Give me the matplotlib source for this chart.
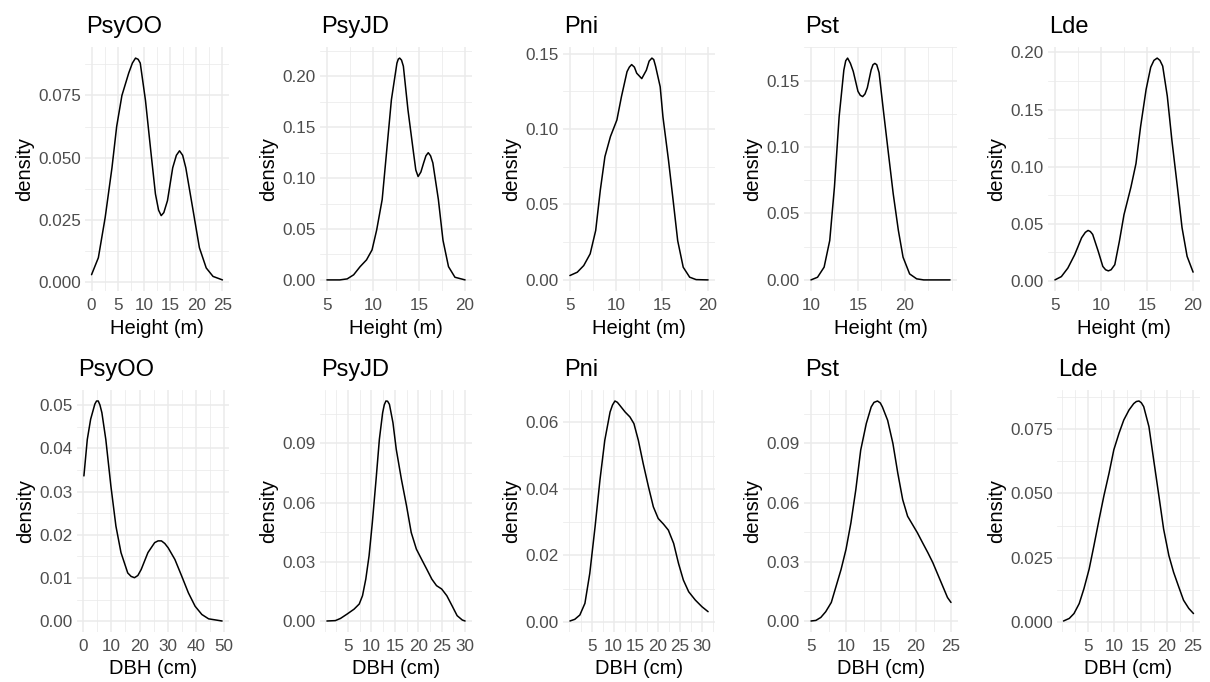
import matplotlib.pyplot as plt

plt.rcParams["font.family"] = ["Liberation Sans", "DejaVu Sans"]

FIG_W, FIG_H = 1210, 682

species = ["PsyOO", "PsyJD", "Pni", "Pst", "Lde"]

# Height (m) density curves
psyoo_h_x = [0, 1.3, 2.6, 3.9, 4.8, 5.8, 7.1, 7.8, 8.4, 8.9, 9.3, 10.3, 11.3, 12.2,
             12.8, 13.3, 13.8, 14.5, 15.5, 16.2, 16.8, 17.4, 18.0, 19.3, 20.6,
             21.9, 23.2, 25.0]
psyoo_h_y = [0.0031, 0.0099, 0.026, 0.046, 0.0626, 0.075, 0.084, 0.088, 0.090,
             0.0895, 0.088, 0.073, 0.053, 0.0355, 0.029, 0.0268, 0.028, 0.0328,
             0.046, 0.051, 0.0528, 0.051, 0.046, 0.030, 0.0139, 0.0058, 0.0024,
             0.001]

psyjd_h_x = [5, 6.4, 7.2, 7.9, 8.6, 9.3, 9.9, 10.4, 11.0, 11.5, 12.0, 12.6, 12.75,
             12.9, 13.1, 13.3, 13.8, 14.4, 14.65, 14.9, 15.2, 15.5, 15.75, 16.0,
             16.25, 16.5, 17.1, 17.6, 18.2, 18.9, 20]
psyjd_h_y = [0, 0, 0.001, 0.005, 0.013, 0.0197, 0.0295, 0.049, 0.079, 0.128,
             0.177, 0.213, 0.217, 0.218, 0.216, 0.21, 0.167, 0.125, 0.108, 0.1016,
             0.106, 0.115, 0.122, 0.125, 0.122, 0.115, 0.079, 0.039, 0.013,
             0.0026, 0]

pni_h_x = [5, 5.8, 6.5, 7.2, 7.8, 8.3, 8.8, 9.4, 10.1, 10.6, 11.2, 11.45, 11.7,
           12.0, 12.25, 12.8, 13.3, 13.6, 13.9, 14.1, 14.3, 14.8, 15.1, 15.7,
           16.2, 16.7, 17.3, 18.0, 18.7, 20]
pni_h_y = [0.0029, 0.0051, 0.0095, 0.0173, 0.0328, 0.0595, 0.0817, 0.095, 0.106,
           0.1216, 0.138, 0.141, 0.1427, 0.141, 0.137, 0.1334, 0.139, 0.145,
           0.147, 0.146, 0.1416, 0.128, 0.108, 0.0794, 0.053, 0.026, 0.0084,
           0.0018, 0.0002, 0]

pst_h_x = [10, 10.7, 11.4, 12.0, 12.5, 13.0, 13.5, 13.7, 13.9, 14.2, 14.5, 15.0,
           15.25, 15.5, 15.75, 16.0, 16.4, 16.6, 16.8, 17.0, 17.25, 17.7, 18.2,
           18.75, 19.3, 19.8, 20.5, 21.25, 22, 24.8]
pst_h_y = [0, 0.002, 0.0096, 0.0297, 0.070, 0.123, 0.158, 0.165, 0.167, 0.163,
           0.157, 0.142, 0.139, 0.138, 0.140, 0.1447, 0.158, 0.162, 0.163, 0.162,
           0.156, 0.128, 0.0978, 0.065, 0.0373, 0.0171, 0.0045, 0.0008, 0, 0]

lde_h_x = [5, 5.7, 6.4, 7.15, 7.9, 8.3, 8.6, 8.85, 9.1, 9.7, 10.2, 10.5, 10.8,
           11.1, 11.5, 12.0, 12.5, 13.25, 13.8, 14.3, 14.9, 15.4, 15.75, 16.1,
           16.4, 16.7, 17.2, 17.7, 18.3, 18.8, 19.35, 20]
lde_h_y = [0.0009, 0.0038, 0.0112, 0.023, 0.0378, 0.0425, 0.0442, 0.0432, 0.0407,
           0.026, 0.0127, 0.0098, 0.0088, 0.0098, 0.0142, 0.0348, 0.058, 0.082,
           0.1027, 0.135, 0.1676, 0.187, 0.193, 0.195, 0.193, 0.188, 0.1617,
           0.123, 0.082, 0.0466, 0.0215, 0.0077]

# DBH (cm) density curves
psyoo_d_x = [0.2, 1.4, 2.6, 4.1, 4.7, 5.3, 5.9, 6.6, 8.0, 9.8, 11.6, 13.4, 15.8,
             17.0, 18.2, 19.4, 20.6, 23.0, 25.4, 26.6, 27.8, 29.0, 30.2, 32.6,
             35.0, 37.4, 39.8, 42.2, 44.6, 49.4]
psyoo_d_y = [0.0336, 0.042, 0.0467, 0.0502, 0.0509, 0.0509, 0.0500, 0.0482,
             0.042, 0.0313, 0.022, 0.0159, 0.0112, 0.0104, 0.0101, 0.0106, 0.012,
             0.0159, 0.0182, 0.0186, 0.0186, 0.0180, 0.017, 0.0143, 0.0105,
             0.0066, 0.0035, 0.0016, 0.0006, 0.0001]

psyjd_d_x = [0.5, 2.3, 3.4, 4.8, 6.3, 7.4, 8.1, 8.8, 9.5, 10.2, 11.0, 11.7, 12.4,
             12.75, 13.1, 13.45, 13.85, 14.6, 15.3, 16.4, 17.5, 18.5, 19.6, 20.7,
             21.8, 22.9, 23.9, 25.0, 26.1, 27.2, 28.3, 29.4, 30.0]
psyjd_d_y = [0, 0.0002, 0.0013, 0.0035, 0.006, 0.0086, 0.0128, 0.0212, 0.033,
             0.0499, 0.0718, 0.092, 0.1055, 0.1095, 0.1114, 0.1113, 0.1097,
             0.1004, 0.087, 0.0718, 0.0583, 0.0448, 0.0364, 0.0313, 0.0263,
             0.0212, 0.0179, 0.0162, 0.0128, 0.0078, 0.0027, 0.0005, 0]

pni_d_x = [0.1, 1.2, 2.35, 3.5, 4.6, 5.8, 6.9, 8.0, 9.2, 9.75, 10.3, 10.85, 11.4,
           12.6, 13.7, 14.6, 15.6, 16.7, 17.9, 19.0, 20.1, 21.3, 22.4, 23.6,
           24.7, 25.8, 27.0, 28.5, 30.0, 31.4]
pni_d_y = [0.0003, 0.0008, 0.0021, 0.0056, 0.0146, 0.0286, 0.0426, 0.0546,
           0.0631, 0.0652, 0.0664, 0.066, 0.0651, 0.0631, 0.0616, 0.0596, 0.0546,
           0.0476, 0.0406, 0.0346, 0.0311, 0.0294, 0.0276, 0.0236, 0.0176,
           0.0126, 0.0091, 0.0066, 0.0046, 0.0031]

pst_d_x = [5, 5.7, 6.4, 7.1, 7.9, 8.6, 9.3, 10.0, 10.7, 11.4, 12.1, 12.9, 13.6,
           14.0, 14.5, 14.9, 15.2, 15.95, 16.7, 17.4, 18.1, 18.8, 19.5, 20.2,
           20.95, 21.7, 22.4, 23.1, 23.8, 24.5, 25.0]
pst_d_y = [0, 0.0003, 0.0018, 0.0047, 0.0094, 0.0178, 0.0262, 0.0363, 0.0497,
           0.0665, 0.0866, 0.1001, 0.1085, 0.1108, 0.1115, 0.1105, 0.1085,
           0.1017, 0.09, 0.0749, 0.0615, 0.0531, 0.0489, 0.0447, 0.0396, 0.0346,
           0.0296, 0.0237, 0.0178, 0.0119, 0.0094]

lde_d_x = [0.3, 1.4, 2.3, 3.3, 4.2, 5.2, 6.1, 7.1, 8.0, 9.0, 9.9, 10.9, 11.8,
           12.8, 13.7, 14.2, 14.7, 15.15, 15.6, 16.6, 17.5, 18.5, 19.4, 20.4,
           21.3, 22.3, 23.2, 24.2, 25.1]
lde_d_y = [0.0003, 0.0013, 0.0032, 0.0071, 0.0129, 0.0206, 0.0296, 0.04, 0.049,
           0.058, 0.067, 0.0735, 0.0786, 0.0825, 0.085, 0.0858, 0.086, 0.0853,
           0.0838, 0.076, 0.0631, 0.049, 0.0361, 0.0258, 0.0193, 0.0135, 0.0084,
           0.0052, 0.0032]

height_curves = [(psyoo_h_x, psyoo_h_y), (psyjd_h_x, psyjd_h_y), (pni_h_x, pni_h_y),
                 (pst_h_x, pst_h_y), (lde_h_x, lde_h_y)]
dbh_curves = [(psyoo_d_x, psyoo_d_y), (psyjd_d_x, psyjd_d_y), (pni_d_x, pni_d_y),
              (pst_d_x, pst_d_y), (lde_d_x, lde_d_y)]

height_xticks = [[0, 5, 10, 15, 20, 25], [5, 10, 15, 20], [5, 10, 15, 20],
                 [10, 15, 20], [5, 10, 15, 20]]
height_yticks = [[0, 0.025, 0.05, 0.075], [0, 0.05, 0.10, 0.15, 0.20],
                 [0, 0.05, 0.10, 0.15], [0, 0.05, 0.10, 0.15],
                 [0, 0.05, 0.10, 0.15, 0.20]]
height_ydec = [3, 2, 2, 2, 2]

dbh_xticks = [[0, 10, 20, 30, 40, 50], [5, 10, 15, 20, 25, 30],
              [5, 10, 15, 20, 25, 30], [5, 10, 15, 20, 25], [5, 10, 15, 20, 25]]
dbh_yticks = [[0, 0.01, 0.02, 0.03, 0.04, 0.05], [0, 0.03, 0.06, 0.09],
              [0, 0.02, 0.04, 0.06], [0, 0.03, 0.06, 0.09],
              [0, 0.025, 0.05, 0.075]]
dbh_ydec = [2, 2, 2, 2, 3]

# panel rectangles in pixels (left, right), per row
top_cols = [(85, 229), (320, 472), (563, 715), (804, 957), (1048, 1200)]
bottom_cols = [(77, 229), (320, 472), (563, 715), (804, 958), (1057, 1200)]
top_rows = (47, 291)
bottom_rows = (390, 632)

GRID = "#EBEBEB"


def minor_breaks(major, lo, hi):
    step = major[1] - major[0]
    b = list(major)
    if lo < b[0]:
        b = [b[0] - step] + b
    if hi > b[-1]:
        b = b + [b[-1] + step]
    out = []
    for a, c in zip(b[:-1], b[1:]):
        out += [a, (a + c) / 2]
    out.append(b[-1])
    return [m for m in out if lo <= m <= hi and min(abs(m - t) for t in major) > 1e-9]


def draw_panel(fig, rect_x, rect_y, xs, ys, xticks, yticks, ydec, title, xlabel):
    left, right = rect_x
    top, bottom = rect_y
    ax = fig.add_axes([left / FIG_W, 1 - bottom / FIG_H,
                       (right - left) / FIG_W, (bottom - top) / FIG_H])
    ax.plot(xs, ys, color="black", lw=1.1, zorder=3,
            solid_joinstyle="round", solid_capstyle="round")

    xr = max(xs) - min(xs)
    yr = max(ys) - min(ys)
    xlo, xhi = min(xs) - 0.05 * xr, max(xs) + 0.05 * xr
    ylo, yhi = min(ys) - 0.05 * yr, max(ys) + 0.05 * yr
    ax.set_xlim(xlo, xhi)
    ax.set_ylim(ylo, yhi)

    ax.set_xticks(xticks)
    ax.set_xticklabels([str(t) for t in xticks])
    ax.set_yticks(yticks)
    ax.set_yticklabels([f"{t:.{ydec}f}" for t in yticks])
    ax.set_xticks(minor_breaks(xticks, xlo, xhi), minor=True)
    ax.set_yticks(minor_breaks(yticks, ylo, yhi), minor=True)

    ax.grid(which="major", color=GRID, lw=1.1)
    ax.grid(which="minor", color=GRID, lw=0.55)
    ax.set_axisbelow(True)
    for s in ax.spines.values():
        s.set_visible(False)
    ax.tick_params(which="both", length=0)
    ax.tick_params(axis="x", labelsize=12.3, labelcolor="#4D4D4D", pad=5)
    ax.tick_params(axis="y", labelsize=12.3, labelcolor="#4D4D4D", pad=3)

    ax.set_xlabel(xlabel, fontsize=14.5, labelpad=4)
    ax.set_ylabel("density", fontsize=14.5, labelpad=3)
    fig.text((left + 1) / FIG_W, 1 - (top - 14) / FIG_H, title,
             fontsize=17, ha="left", va="baseline")
    return ax


fig = plt.figure(figsize=(FIG_W / 100, FIG_H / 100), dpi=100)

for i, name in enumerate(species):
    xs, ys = height_curves[i]
    draw_panel(fig, top_cols[i], top_rows, xs, ys, height_xticks[i],
               height_yticks[i], height_ydec[i], name, "Height (m)")

for i, name in enumerate(species):
    xs, ys = dbh_curves[i]
    draw_panel(fig, bottom_cols[i], bottom_rows, xs, ys, dbh_xticks[i],
               dbh_yticks[i], dbh_ydec[i], name, "DBH (cm)")

fig.savefig("out.png", dpi=100)
plt.close(fig)
